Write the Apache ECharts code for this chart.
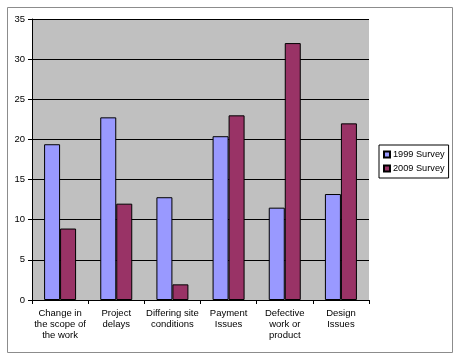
<!DOCTYPE html>
<html>
<head>
<meta charset="utf-8">
<script src="https://cdn.jsdelivr.net/npm/echarts@6/dist/echarts.min.js"></script>
<style>
html,body{margin:0;padding:0;background:#fff;}
#c{width:457px;height:356px;}
</style>
</head>
<body>
<div id="c"></div>
<script>
const categories = ["Change in\nthe scope of\nthe work", "Project\ndelays", "Differing site\nconditions", "Payment\nIssues", "Defective\nwork or\nproduct", "Design\nIssues"];
const survey1999 = [19.4, 22.75, 12.8, 20.4, 11.5, 13.2];
const survey2009 = [8.9, 12.0, 1.95, 23.0, 32.0, 22.0];
const seriesNames = ["1999 Survey", "2009 Survey"];
const yTicks = { min: 0, max: 35, interval: 5 };

const chart = echarts.init(document.getElementById('c'), null, {renderer: 'canvas'});
const font = 'Liberation Sans, Arial, sans-serif';
chart.setOption({
  animation: false,
  backgroundColor: '#fff',
  graphic: [{
    type: 'rect', left: 5, top: 5, silent: true, z: -10,
    shape: {width: 445, height: 345},
    style: {fill: 'none', stroke: '#8c8c8c', lineWidth: 1}
  }],
  grid: {left: 32, top: 19, right: 88, bottom: 56, show: true, backgroundColor: '#c0c0c0', borderWidth: 0},
  legend: {
    orient: 'vertical', left: 379, top: 145,
    padding: [4, 4, 4, 4],
    borderColor: '#000', borderWidth: 1,
    itemWidth: 6, itemHeight: 6, itemGap: 3,
    icon: 'rect',
    textStyle: {fontFamily: font, fontSize: 9.2, color: '#000', lineHeight: 11, padding: [0,0,0,-2]},
    data: seriesNames
  },
  xAxis: {
    type: 'category', data: categories,
    axisLine: {lineStyle: {color: '#000', width: 1}},
    axisTick: {show: true, length: 4, lineStyle: {color: '#000'}},
    axisLabel: {interval: 0, margin: 8, fontFamily: font, fontSize: 9.5, color: '#000', lineHeight: 11},
    splitLine: {show: false}
  },
  yAxis: {
    type: 'value', min: yTicks.min, max: yTicks.max, interval: yTicks.interval,
    axisLine: {show: true, lineStyle: {color: '#000', width: 1}},
    axisTick: {show: true, length: 4, lineStyle: {color: '#000'}},
    axisLabel: {margin: 7, fontFamily: font, fontSize: 9.5, color: '#000'},
    splitLine: {show: true, lineStyle: {color: '#000', width: 1}}
  },
  series: [
    {name: seriesNames[0], type: 'bar', data: survey1999, barWidth: 16, barGap: '0%',
     itemStyle: {color: '#9999ff', borderColor: '#000', borderWidth: 1}},
    {name: seriesNames[1], type: 'bar', data: survey2009, barWidth: 16, barGap: '0%',
     itemStyle: {color: '#993366', borderColor: '#000', borderWidth: 1}}
  ]
});
</script>
</body>
</html>
